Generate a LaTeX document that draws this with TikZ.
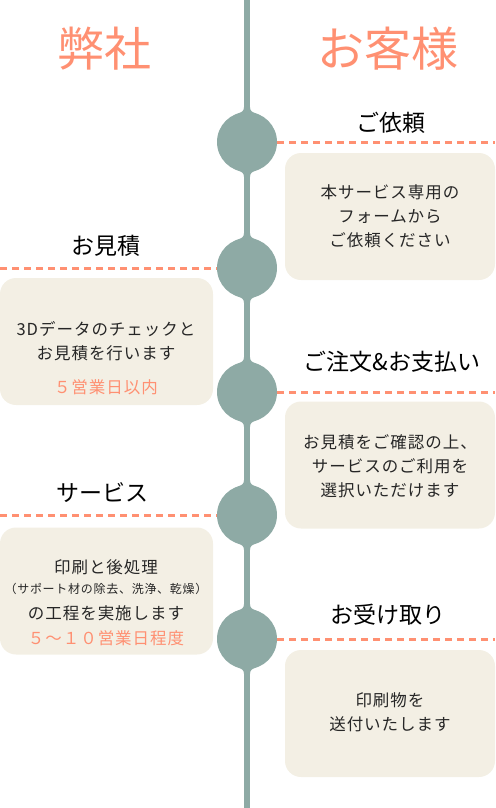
\documentclass[tikz,border=0pt]{standalone}
\usepackage{fontspec}
\setmainfont{Noto Sans CJK JP}
\newfontfamily\spacedjp[LetterSpace=6]{Noto Sans CJK JP}
\usetikzlibrary{positioning}

\definecolor{salmon}{RGB}{255,144,114}
\definecolor{sage}{RGB}{142,170,165}
\definecolor{cream}{RGB}{243,239,228}

\begin{document}
\begin{tikzpicture}[
  x=1pt, y=-1pt,
  dot/.style={circle, fill=sage, minimum size=60pt, inner sep=0pt},
  card/.style={fill=cream, rounded corners=16pt, minimum height=127pt, inner sep=0pt},
  guide/.style={salmon, line width=3pt, dash pattern=on 7pt off 5pt},
  head/.style={font=\fontsize{47}{50}\selectfont, text=salmon},
  stage/.style={font=\fontsize{23}{26}\selectfont, text=black},
  body/.style={font=\spacedjp\fontsize{16.5}{24}\selectfont, align=center, text=black!85},
  note/.style={text=salmon}
]
  \def\spinex{247}
  \useasboundingbox (0,0) rectangle (495,808);

  \coordinate (top) at (\spinex,0);
  \coordinate (bottom) at (\spinex,808);
  \coordinate (lim) at (0,0);
  \coordinate (rim) at (495,0);

  \draw[sage, line width=6pt] (top) -- (bottom);

  \foreach \y [count=\n] in {142,268,392,515,639} {
    \node[dot] (c\n) at (\spinex,\y) {};
    \begin{scope}[shift={(\spinex,\y)}]
      \fill[sage] (-3,-35) .. controls (-3,-31) and (-5,-30) .. (-9,-28.4)
        -- (9,-28.4) .. controls (5,-30) and (3,-31) .. (3,-35) -- cycle;
      \fill[sage] (-3,35) .. controls (-3,31) and (-5,30) .. (-9,28.4)
        -- (9,28.4) .. controls (5,30) and (3,31) .. (3,35) -- cycle;
    \end{scope}
  }

  \foreach \n in {1,3,5} \draw[guide] (c\n.east) -- (c\n.east -| rim);
  \foreach \n in {2,4} \draw[guide] (lim |- c\n.west) -- (c\n.west);

  % headings
  \node[head] (h1) at (104,49) {弊社};
  \node[head] (h2) at (388,49) {お客様};

  % cards
  \node[card, minimum width=210pt] (k1) at (390,216.5) {};
  \node[card, minimum width=213pt] (k2) at (106.5,341.5) {};
  \node[card, minimum width=210pt] (k3) at (390,465) {};
  \node[card, minimum width=213pt] (k4) at (106.5,591) {};
  \node[card, minimum width=210pt] (k5) at (390,713.5) {};

  % stages
  \node[stage] (t1) at (391,123) {ご依頼};
  \node[stage] (t2) at (106,246) {お見積};
  \node[stage] (t3) at (392,362) {ご注文\&お支払い};
  \node[stage] (t4) at (102,493) {サービス};
  \node[stage] (t5) at (388,615) {お受け取り};

  \node[body] (b1) at (390,216) {本サービス専用の\\フォームから\\ご依頼ください};
  \node[body] (b2) at (106,358) {3Dデータのチェックと\\お見積を行います\\[10pt]{\color{salmon}５営業日以内}};
  \node[body] (b3) at (390,466) {お見積をご確認の上、\\サービスのご利用を\\選択いただけます};
  \node[body] (b4) at (106,603) {印刷と後処理\\[-4pt]{\fontsize{12}{24}\selectfont（サポート材の除去、洗浄、乾燥）}\\[2pt]の工程を実施します\\[1pt]{\color{salmon}５～１０営業日程度}};
  \node[body] (b5) at (390,712) {印刷物を\\送付いたします};
\end{tikzpicture}
\end{document}
